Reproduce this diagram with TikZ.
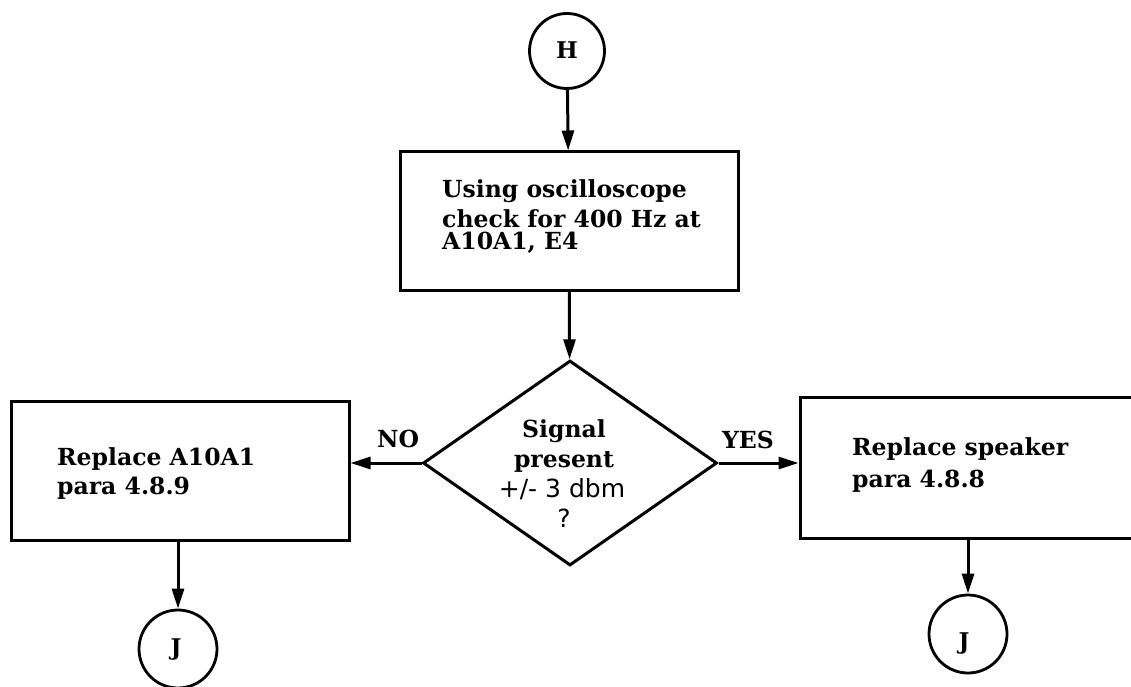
\documentclass[tikz,border=0pt]{standalone}
\usepackage{fontspec}
\setmainfont{DejaVu Serif}
\newfontfamily\dsans{DejaVu Sans}
\usetikzlibrary{arrows.meta,shapes.geometric}
\tikzset{
  boxstyle/.style={draw,line width=3pt,rectangle,inner sep=0pt},
  conn/.style={draw,line width=2.8pt,circle,inner sep=0pt},
  flow/.style={line width=3pt,-{Triangle[length=20pt,width=12pt]}},
  btext/.style={font=\fontsize{23.5}{26}\selectfont\bfseries,inner sep=0pt,anchor=base west},
  dtext/.style={font=\fontsize{23.5}{26}\selectfont\bfseries,inner sep=0pt,anchor=base},
  stext/.style={font=\fontsize{25}{28}\selectfont\dsans,inner sep=0pt,anchor=base},
  ctext/.style={font=\fontsize{23}{26}\selectfont\bfseries,inner sep=0pt,anchor=base},
}
\begin{document}
\begin{tikzpicture}[x=1pt,y=-1pt]
\useasboundingbox (0,0) rectangle (1131,687);
\clip (0,0) rectangle (1131,687);
\fill[white] (0,0) rectangle (1131,687);
% nodes
\node[conn,minimum size=75pt] (H) at (567,51) {};
\node[ctext] (Ht) at (567,59) {H};
\node[boxstyle,minimum width=338pt,minimum height=138pt] (b1) at (569,221) {};
\node[btext] (b1a) at (442,197) {Using oscilloscope};
\node[btext] (b1b) at (442,227) {check for 400 Hz at};
\node[btext] (b1c) at (442,249) {A10A1, E4};
\node[draw,line width=3pt,diamond,inner sep=0pt,minimum width=294pt,minimum height=205pt,aspect=1.43] (d) at (570,463) {};
\node[dtext] (da) at (564,437) {Signal};
\node[dtext] (db) at (564,467) {present};
\node[stext] (dc) at (562,497) {+/- 3 dbm};
\node[stext] (dd) at (564,527) {?};
\node[boxstyle,minimum width=338pt,minimum height=139pt] (lb) at (180,470.5) {};
\node[btext] (lba) at (57,465) {Replace A10A1};
\node[btext] (lbb) at (57,494) {para 4.8.9};
\node[boxstyle,minimum width=340pt,minimum height=141pt] (rb) at (970,467.5) {};
\node[btext] (rba) at (852,455) {Replace speaker};
\node[btext] (rbb) at (852,487) {para 4.8.8};
\node[conn,minimum size=78pt] (J1) at (178,649) {};
\node[ctext] (J1t) at (176,655) {J};
\node[conn,minimum size=78pt] (J2) at (968,634) {};
\node[ctext] (J2t) at (964,649) {J};
\node[dtext] (no) at (398,447) {NO};
\node[dtext] (yes) at (748,448) {YES};
% connectors
\draw[flow] (H) -- (b1);
\draw[flow] (b1) -- (d);
\draw[flow] (d.west) -- (lb.east |- d.west);
\draw[flow] (d.east) -- (rb.west |- d.east);
\draw[flow] (J1.north |- lb.south) -- (J1);
\draw[flow] (J2.north |- rb.south) -- (J2);
\end{tikzpicture}
\end{document}
